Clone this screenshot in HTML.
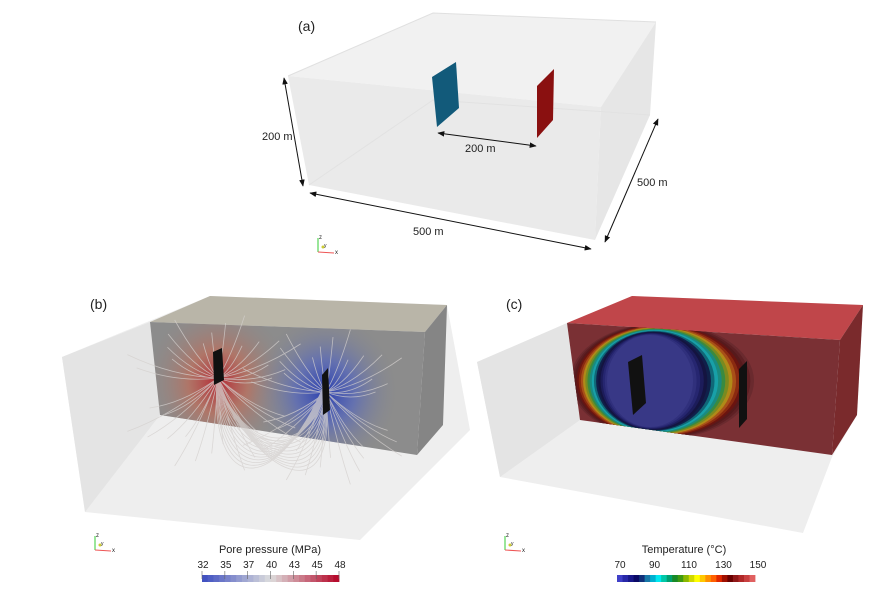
<!DOCTYPE html>
<html><head><meta charset="utf-8"><style>
html,body{margin:0;padding:0;background:#fff;}
svg{display:block;font-family:"Liberation Sans",sans-serif;}
</style></head><body>
<svg id="fig" width="880" height="590" viewBox="0 0 880 590">
<defs>
<marker id="ar" viewBox="0 0 10 10" refX="9" refY="5" markerWidth="7" markerHeight="7" orient="auto-start-reverse"><path d="M0,1 L10,5 L0,9 z" fill="#111"/></marker>
<radialGradient id="gr" cx="0.5" cy="0.5" r="0.5"><stop offset="0" stop-color="#b52a35"/><stop offset="0.4" stop-color="#b8705f" stop-opacity="0.8"/><stop offset="1" stop-color="#8a8a8a" stop-opacity="0"/></radialGradient>
<radialGradient id="gb" cx="0.5" cy="0.5" r="0.5"><stop offset="0" stop-color="#2a3fb0"/><stop offset="0.4" stop-color="#5a6ab8" stop-opacity="0.8"/><stop offset="1" stop-color="#8a8a8a" stop-opacity="0"/></radialGradient>
<clipPath id="cfront"><polygon points="567,323 840,340 832,455 580,420"/></clipPath>
<clipPath id="bfront"><polygon points="150,322 425,332 417,455 160,415"/></clipPath>
</defs>

<g>
<polygon points="433,13 656,22 601,107 288,76" fill="#f1f1f1"/>
<polygon points="288,76 601,107 595,240 309,185" fill="#eaeaea"/>
<polygon points="601,107 656,22 650,115 595,240" fill="#e6e6e6"/>
<polyline points="288,76 433,13 656,22" fill="none" stroke="#e0e0e0"/>
<polyline points="309,185 433,100 650,115" fill="none" stroke="#e2e2e2"/>
<polygon points="432,77 456,62 459,108 437,127" fill="#125a7a"/>
<polygon points="537,86 554,69 553,120 537,138" fill="#8a1010"/>
<g stroke="#111" stroke-width="1" marker-start="url(#ar)" marker-end="url(#ar)">
<line x1="284" y1="78" x2="303" y2="186"/>
<line x1="438" y1="133" x2="536" y2="146"/>
<line x1="310" y1="193" x2="591" y2="249"/>
<line x1="605" y1="242" x2="658" y2="119"/>
</g>
<g font-size="11" fill="#222">
<text x="298" y="31" font-size="14">(a)</text>
<text x="262" y="140">200 m</text>
<text x="465" y="152">200 m</text>
<text x="413" y="235">500 m</text>
<text x="637" y="186">500 m</text>
</g>
</g>

<g>
<polygon points="62,357 210,296 447,305 470,430 360,540 85,512" fill="#eeeeee"/>
<polygon points="62,357 150,322 160,415 85,512" fill="#e4e4e4"/>
<polygon points="150,322 210,296 447,305 425,332" fill="#b9b5a8"/>
<polygon points="425,332 447,305 443,425 417,455" fill="#858585"/>
<polygon points="150,322 425,332 417,455 160,415" fill="#8c8c8c"/>
<g clip-path="url(#bfront)">
<ellipse cx="218" cy="382" rx="75" ry="80" fill="url(#gr)"/>
<ellipse cx="325" cy="392" rx="75" ry="80" fill="url(#gb)"/>
</g>
<g id="streams" fill="none" stroke="#d4d0ce" stroke-width="0.8" opacity="0.75"></g>
<polygon points="213,352 222,348 224,380 214,385" fill="#111"/>
<polygon points="322,375 328,368 330,410 323,415" fill="#111"/>
<text x="90" y="309" font-size="14" fill="#222">(b)</text>
</g>

<g>
<polygon points="477,362 632,296 863,305 857,415 832,457 803,533 500,477" fill="#eeeeee"/>
<polygon points="477,362 567,323 580,420 500,477" fill="#e4e4e4"/>
<polygon points="567,323 632,296 863,305 840,340" fill="#c0464a"/>
<polygon points="840,340 863,305 857,415 832,455" fill="#7a2a2c"/>
<polygon points="567,323 840,340 832,455 580,420" fill="#7a3034"/>
<g id="eye" clip-path="url(#cfront)"></g>
<polygon points="628,362 642,355 646,403 633,415" fill="#111"/>
<polygon points="739,369 747,361 747,419 739,428" fill="#111"/>
<text x="506" y="309" font-size="14" fill="#222">(c)</text>
</g>

<g id="triads"></g>

<text x="270" y="553" font-size="11" text-anchor="middle" fill="#222">Pore pressure (MPa)</text>
<g id="pbar"></g>
<text x="684" y="553" font-size="11" text-anchor="middle" fill="#222">Temperature (°C)</text>
<g id="tbar"></g>
</svg>
<script>
const NS="http://www.w3.org/2000/svg";
const pTickVals=[32,34.67,37.33,40,42.67,45.33,48];
const pTickLabels=["32","35","37","40","43","45","48"];
const pRange=[32,48];
const tTicks=[70,90,110,130,150];
const tRange=[70,150];
const tColors=["#4040c8","#2828a8","#18188a","#0a0a66","#10307a","#1878a8","#00b0d0","#00e8f0","#00c8a8","#00a070","#188a28","#409a10","#8ab800","#d0d800","#ffff00","#ffc800","#ff9000","#ff6000","#e02800","#a01000","#6a0000","#901818","#b02828","#c84040","#e06060"];
function mk(t,a,p){const e=document.createElementNS(NS,t);for(const k in a)e.setAttribute(k,a[k]);(p||document.getElementById('fig')).appendChild(e);return e;}
function pColor(f){const a=[59,76,192],m=[221,221,221],b=[180,4,38];let c;if(f<0.5){const u=f/0.5;c=a.map((v,i)=>v+(m[i]-v)*u);}else{const u=(f-0.5)/0.5;c=m.map((v,i)=>v+(b[i]-v)*u);}return`rgb(${c.map(Math.round).join(',')})`;}
(function(){const g=document.getElementById('pbar');const x0=202,x1=339,y=575,h=7;const n=24;
for(let i=0;i<n;i++){const r=mk('rect',{x:x0+(x1-x0)*i/n,y:y,width:(x1-x0)/n+0.4,height:h,fill:pColor((i+0.5)/n)},g);}
pTickVals.forEach((v,i)=>{const x=x0+(x1-x0)*(v-pRange[0])/(pRange[1]-pRange[0]);const t=mk('text',{x:x+1,y:568,'font-size':10,'text-anchor':'middle',fill:'#222'},g);t.textContent=pTickLabels[i];mk('line',{x1:x,x2:x,y1:571,y2:579,stroke:'#666','stroke-width':0.6},g);});})();
(function(){const g=document.getElementById('tbar');const x0=617,x1=755,y=575,h=7;const n=tColors.length;
tColors.forEach((c,i)=>{const r=mk('rect',{x:x0+(x1-x0)*i/n,y:y,width:(x1-x0)/n+0.4,height:h,fill:c},g);});
tTicks.forEach(v=>{const x=x0+(x1-x0)*(v-tRange[0])/(tRange[1]-tRange[0]);const t=mk('text',{x:x+3,y:568,'font-size':10,'text-anchor':'middle',fill:'#222'},g);t.textContent=v;});})();
(function(){const g=document.getElementById('eye');
const ring=["#6a2a2e","#5e2024","#561a1c","#6a1410","#8a2a10","#a85018","#b08a18","#7a8a20","#3a8a40","#1a8a80","#18a0a8","#106878","#10204a","#141440","#1c1c5a","#262670","#30307c","#383886"];
const n=ring.length;ring.forEach((c,i)=>{const f=i/(n-1);
const rx=92-f*(92-43),ry=58-f*(58-46);
const e=mk('ellipse',{cx:662-f*12,cy:381,rx:rx,ry:ry,fill:c},g);});})();
(function(){const g=document.getElementById('streams');const a=[218,378],b=[326,392];
for(let i=0;i<34;i++){const ang=i/34*Math.PI*2;const r=45+(i%4)*12;const ex=a[0]+Math.cos(ang)*r*1.2,ey=a[1]+Math.sin(ang)*r*0.8+(Math.sin(ang)>0?30:0);
const p=mk('path',{d:`M${a[0]},${a[1]} Q${(a[0]+ex)/2},${(a[1]+ey)/2+10} ${ex},${ey}`},g);
const ex2=b[0]+Math.cos(ang)*r*1.1,ey2=b[1]+Math.sin(ang)*r*0.8+(Math.sin(ang)>0?30:0);const p2=mk('path',{d:`M${ex2},${ey2} Q${(b[0]+ex2)/2},${(b[1]+ey2)/2+10} ${b[0]},${b[1]}`},g);}
for(let i=0;i<22;i++){const s=(i-11);const p=mk('path',{d:`M${a[0]},${a[1]+s} C${a[0]+20+s*3},${a[1]+70+Math.abs(s)*4} ${b[0]-20+s*3},${b[1]+70+Math.abs(s)*4} ${b[0]},${b[1]+s}`},g);}})();
(function(){const g=document.getElementById('triads');[[318,252],[95,550],[505,550]].forEach(([x,y])=>{
mk('line',{x1:x,y1:y,x2:x,y2:y-14,stroke:'#3c3','stroke-width':1},g);mk('line',{x1:x,y1:y,x2:x+16,y2:y+1,stroke:'#e55','stroke-width':1},g);mk('circle',{cx:x+5,cy:y-5,r:1.5,fill:'#cc3'},g);
const tz=mk('text',{x:x+1,y:y-13,'font-size':6,fill:'#222'},g);tz.textContent='z';const tx=mk('text',{x:x+17,y:y+2,'font-size':6,fill:'#222'},g);tx.textContent='x';const ty=mk('text',{x:x+6,y:y-5,'font-size':5,fill:'#222'},g);ty.textContent='y';});})();
</script>
</body></html>
